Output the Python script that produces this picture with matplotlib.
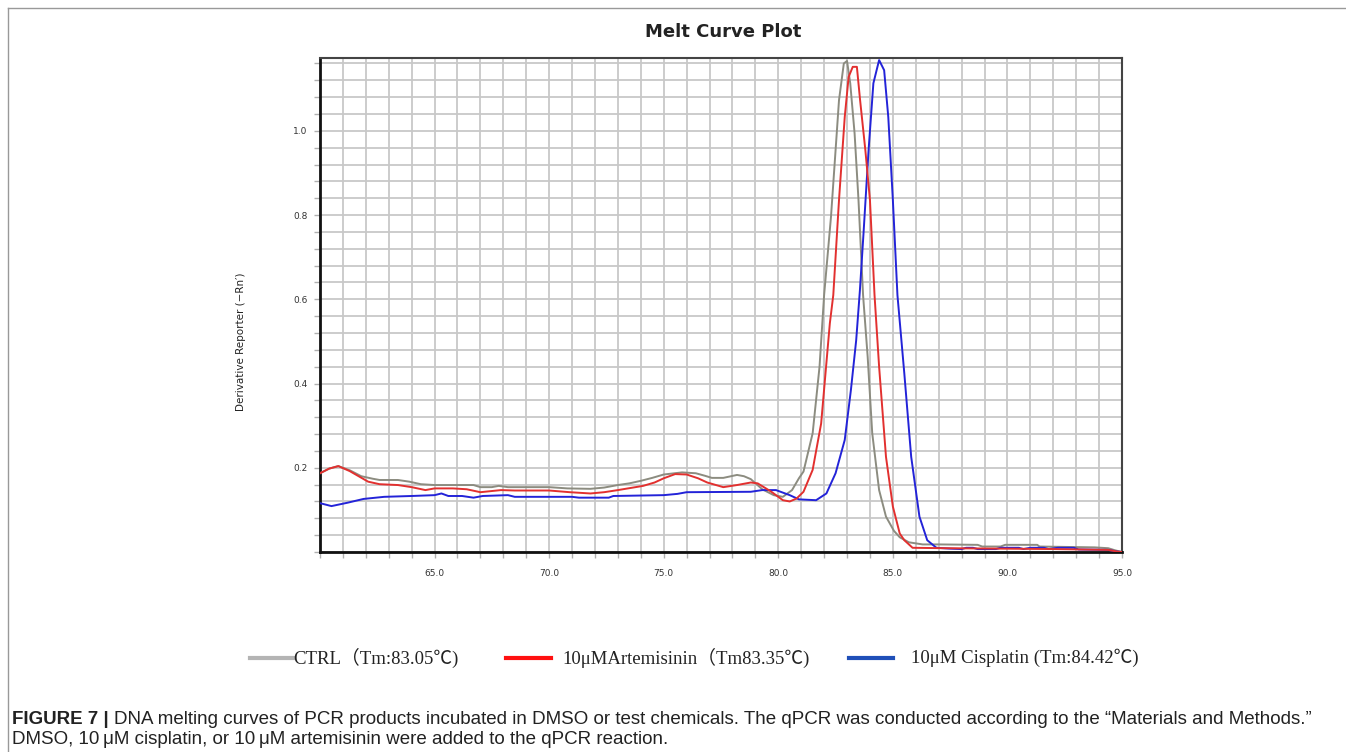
import matplotlib
matplotlib.use("Agg")
import matplotlib.pyplot as plt
from matplotlib.lines import Line2D
from matplotlib.ticker import MultipleLocator, FixedLocator, FormatStrFormatter

# melt curve data (temperature in C, derivative reporter -Rn')
ctrl_temp = [60.0, 60.4, 60.8, 61.3, 61.8, 62.3, 62.6, 63.4, 63.9, 64.4, 65.0, 66.0, 66.7, 67.0,
             67.5, 67.8, 68.2, 69.0, 70.0, 70.8, 71.8, 72.4, 73.0, 73.5, 74.0, 74.5, 75.0, 75.8,
             76.4, 76.8, 77.1, 77.6, 78.2, 78.5, 78.8, 79.3, 79.8, 80.2, 80.6, 80.9, 81.1, 81.5,
             81.8, 82.0, 82.3, 82.5, 82.65, 82.86, 83.0, 83.14, 83.33, 83.5, 83.7, 83.9, 84.1,
             84.4, 84.7, 85.05, 85.3, 85.7, 86.3, 87.0, 88.7, 88.9, 89.7, 89.9, 91.3, 91.4, 93.8,
             94.4, 94.7, 95.0]
ctrl_deriv = [0.187, 0.198, 0.204, 0.194, 0.180, 0.174, 0.171, 0.171, 0.167, 0.161, 0.159, 0.159,
              0.159, 0.154, 0.154, 0.157, 0.154, 0.154, 0.154, 0.151, 0.150, 0.153, 0.159, 0.163,
              0.169, 0.176, 0.184, 0.189, 0.187, 0.181, 0.176, 0.176, 0.183, 0.180, 0.173, 0.149,
              0.135, 0.131, 0.147, 0.175, 0.191, 0.282, 0.44, 0.61, 0.796, 0.954, 1.073, 1.16,
              1.166, 1.113, 0.994, 0.836, 0.61, 0.464, 0.282, 0.147, 0.084, 0.05, 0.035, 0.023,
              0.018, 0.018, 0.017, 0.013, 0.013, 0.017, 0.017, 0.013, 0.011, 0.009, 0.004, 0.0]

art_temp = [60.0, 60.4, 60.8, 61.3, 62.1, 62.6, 63.4, 64.0, 64.6, 65.0, 65.8, 66.4, 67.0, 67.9,
            68.5, 70.0, 70.9, 71.8, 72.4, 73.0, 74.1, 74.6, 75.0, 75.5, 76.0, 76.5, 76.9, 77.6,
            78.2, 78.8, 79.1, 79.7, 80.2, 80.5, 80.8, 81.1, 81.5, 81.87, 82.25, 82.4, 82.65, 82.9,
            83.07, 83.25, 83.43, 83.57, 83.8, 84.0, 84.2, 84.4, 84.7, 85.0, 85.3, 85.5, 85.86,
            87.3, 92.0, 94.4, 94.8, 95.0]
art_deriv = [0.187, 0.198, 0.204, 0.192, 0.167, 0.161, 0.159, 0.154, 0.147, 0.151, 0.151, 0.149,
             0.142, 0.147, 0.146, 0.146, 0.142, 0.139, 0.142, 0.147, 0.157, 0.165, 0.175, 0.185,
             0.184, 0.175, 0.165, 0.154, 0.159, 0.165, 0.163, 0.143, 0.123, 0.120, 0.127, 0.143,
             0.195, 0.305, 0.543, 0.61, 0.836, 1.033, 1.128, 1.152, 1.152, 1.073, 0.954, 0.836,
             0.61, 0.44, 0.226, 0.108, 0.044, 0.028, 0.010, 0.009, 0.007, 0.005, 0.001, 0.0]

cis_temp = [60.0, 60.5, 61.2, 61.9, 62.8, 64.0, 65.0, 65.3, 65.6, 66.2, 66.7, 67.1, 68.2, 68.5,
            71.0, 71.3, 72.6, 72.8, 75.0, 75.6, 76.0, 78.8, 79.3, 79.9, 80.5, 80.9, 81.65, 82.1,
            82.5, 82.9, 83.17, 83.4, 83.56, 83.72, 83.94, 84.15, 84.4, 84.62, 84.8, 85.0, 85.2,
            85.5, 85.8, 86.16, 86.5, 86.9, 87.5, 88.0, 88.2, 88.5, 88.7, 89.5, 89.7, 90.5, 90.7,
            91.0, 91.6, 91.8, 92.2, 92.9, 93.1, 94.4, 94.8, 95.0]
cis_deriv = [0.116, 0.109, 0.117, 0.126, 0.131, 0.133, 0.135, 0.139, 0.133, 0.133, 0.129, 0.133,
             0.135, 0.131, 0.131, 0.129, 0.129, 0.133, 0.135, 0.138, 0.142, 0.143, 0.147, 0.147,
             0.135, 0.125, 0.123, 0.139, 0.187, 0.266, 0.385, 0.503, 0.62, 0.757, 0.954, 1.113,
             1.168, 1.144, 1.033, 0.836, 0.61, 0.424, 0.226, 0.084, 0.028, 0.010, 0.008, 0.007,
             0.010, 0.010, 0.007, 0.007, 0.010, 0.010, 0.007, 0.010, 0.010, 0.007, 0.010, 0.010,
             0.006, 0.005, 0.001, 0.0]

x_labels = [65, 70, 75, 80, 85, 90, 95]
y_labels = [0.2, 0.4, 0.6, 0.8, 1.0]

legend_labels = ["CTRL\uff08Tm:83.05\u2103)", "10\u03bcMArtemisinin\uff08Tm83.35\u2103)",
                 "10\u03bcM Cisplatin (Tm:84.42\u2103)"]
legend_colors = ["#b4b4b4", "#ff1010", "#1f4fb8"]

W, H = 1346, 752
fig = plt.figure(figsize=(W / 100, H / 100), dpi=100)
ax = fig.add_axes([320 / W, 1 - 552 / H, 802 / W, 494 / H])

ax.plot(ctrl_temp, ctrl_deriv, color="#8c8c80", lw=1.4, zorder=3)
ax.plot(cis_temp, cis_deriv, color="#2323d8", lw=1.4, zorder=3)
ax.plot(art_temp, art_deriv, color="#e2302f", lw=1.4, zorder=3)

ax.set_xlim(60, 95)
ax.set_ylim(0, 1.173)
ax.xaxis.set_major_locator(FixedLocator(x_labels))
ax.yaxis.set_major_locator(FixedLocator(y_labels))
ax.xaxis.set_minor_locator(MultipleLocator(1))
ax.yaxis.set_minor_locator(MultipleLocator(0.04))
ax.xaxis.set_major_formatter(FormatStrFormatter("%.1f"))
ax.yaxis.set_major_formatter(FormatStrFormatter("%.1f"))
ax.grid(True, which="both", color="#c8c8c8", lw=1.3, zorder=0)
ax.set_axisbelow(True)
ax.tick_params(which="both", direction="out", length=4, width=1, color="#b0b0b0",
               labelsize=6.5, labelcolor="#333333")
ax.tick_params(axis="x", pad=8)
ax.tick_params(axis="y", pad=5)

for s in ["left", "bottom"]:
    ax.spines[s].set_linewidth(2)
    ax.spines[s].set_color("#111111")
for s in ["top", "right"]:
    ax.spines[s].set_linewidth(1.5)
    ax.spines[s].set_color("#444444")

fig.text(723 / W, 1 - 32 / H, "Melt Curve Plot", ha="center", va="center",
         fontsize=13, fontweight="bold", color="#222222")
fig.text(241 / W, 1 - 342 / H, "Derivative Reporter (\u2212Rn\u2032)", rotation=90,
         ha="center", va="center", fontsize=7.5, color="#222222")

# legend drawn below the plot
line_x = [(250, 293), (506, 551), (849, 893)]
text_x = [293, 562, 911]
ly = 1 - 658 / H
for (x0, x1), tx, lab, col in zip(line_x, text_x, legend_labels, legend_colors):
    fig.add_artist(Line2D([x0 / W, x1 / W], [ly, ly], color=col, lw=3))
    fig.text(tx / W, ly, lab, ha="left", va="center", fontsize=13.5, color="#222222",
             family=["Liberation Serif", "Noto Sans CJK SC", "DejaVu Sans"])

# figure caption
fig.canvas.draw()
r = fig.canvas.get_renderer()
cap_font = ["Liberation Sans Narrow", "Liberation Sans", "DejaVu Sans"]
t1 = fig.text(12 / W, 1 - 720 / H, "FIGURE 7 |", ha="left", va="center", fontsize=13.5,
              fontweight="bold", color="#222222", family=cap_font)
bb = t1.get_window_extent(renderer=r)
fig.text((bb.x1 + 5) / W, 1 - 720 / H,
         "DNA melting curves of PCR products incubated in DMSO or test chemicals. "
         "The qPCR was conducted according to the \u201cMaterials and Methods.\u201d",
         ha="left", va="center", fontsize=13.5, color="#222222", family=cap_font)
fig.text(12 / W, 1 - 739 / H,
         "DMSO, 10\u2009\u03bcM cisplatin, or 10\u2009\u03bcM artemisinin were added to the qPCR reaction.",
         ha="left", va="center", fontsize=13.5, color="#222222", family=cap_font)

# thin frame around the figure panel
fig.add_artist(Line2D([8 / W, 8 / W], [0, 1 - 8 / H], color="#999999", lw=1))
fig.add_artist(Line2D([8 / W, 1], [1 - 8 / H, 1 - 8 / H], color="#999999", lw=1))

fig.savefig("out.png", dpi=100)
